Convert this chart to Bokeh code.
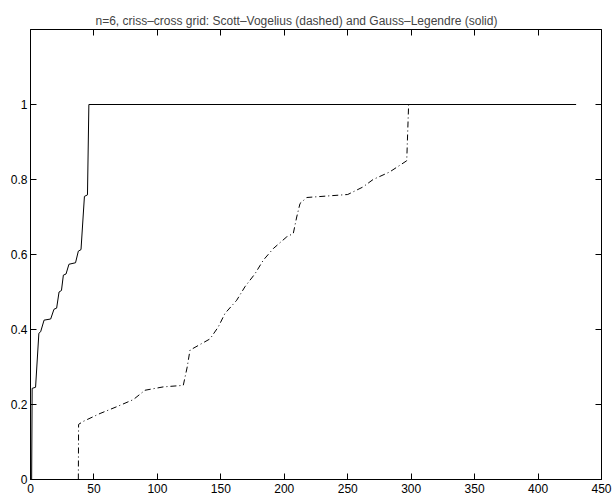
from bokeh.plotting import figure
from bokeh.models import Range1d, LinearAxis, FixedTicker, CustomLabelingPolicy
from bokeh.embed import file_html
from bokeh.resources import INLINE

# Gauss-Legendre (solid)
gl_x = [0.9, 1.3, 4.0, 6.6, 8.0, 10.7, 15.9, 18.5, 20.6, 22.5, 24.4, 25.9, 28.0, 30.3, 35.5, 37.7, 39.8, 42.5, 44.9, 46.0, 430.0]
gl_y = [0.0, 0.243, 0.246, 0.390, 0.394, 0.425, 0.428, 0.454, 0.457, 0.500, 0.504, 0.545, 0.548, 0.574, 0.578, 0.609, 0.613, 0.755, 0.759, 1.0, 1.0]

# Scott-Vogelius (dash-dot)
sv_x = [37.7, 37.9, 41.6, 54.8, 67.9, 81.0, 90.2, 104.7, 120.4, 123.5, 125.7, 141.5, 148.0, 153.3, 162.5,
        169.0, 177.0, 183.5, 191.4, 201.9, 207.1, 209.8, 212.4, 217.7, 250.0, 262.0, 270.0, 283.0, 296.5, 298.0, 430.0]
sv_y = [0.0, 0.147, 0.155, 0.176, 0.194, 0.213, 0.238, 0.247, 0.251, 0.300, 0.345, 0.375, 0.407, 0.443, 0.478,
        0.514, 0.549, 0.585, 0.616, 0.647, 0.656, 0.700, 0.736, 0.752, 0.760, 0.780, 0.800, 0.820, 0.850, 1.0, 1.0]

x_ticks = [0, 50, 100, 150, 200, 250, 300, 350, 400, 450]
y_ticks = [0, 0.2, 0.4, 0.6, 0.8, 1.0]
y_tick_labels = ["0", "0.2", "0.4", "0.6", "0.8", "1"]

title_text = "n=6, criss\u2013cross grid: Scott\u2013Vogelius (dashed) and Gauss\u2013Legendre (solid)"
FONT = "Liberation Sans"

p = figure(frame_width=571, frame_height=450, output_backend="svg", toolbar_location=None,
           x_range=Range1d(0, 450), y_range=Range1d(0, 1.2),
           min_border_left=30, min_border_right=11, min_border_top=29, min_border_bottom=18,
           x_axis_type=None, y_axis_type=None, title=title_text)
p.title.text_font = FONT
p.title.text_font_size = "12px"
p.title.text_font_style = "normal"
p.title.align = "left"
p.title.offset = 65
p.title.standoff = 4
p.xgrid.visible = False
p.ygrid.visible = False
p.outline_line_color = "black"
p.outline_line_width = 1
p.outline_line_alpha = 1.0
p.background_fill_color = "white"
p.border_fill_color = "white"

no_labels = CustomLabelingPolicy(code="return new indices.constructor(indices.size, 0);")

def style_axis(ax, ticks, show_labels, overrides=None):
    ax.ticker = FixedTicker(ticks=ticks)
    ax.major_tick_in = 6
    ax.major_tick_out = 0
    ax.minor_tick_in = 0
    ax.minor_tick_out = 0
    ax.axis_line_color = "black"
    ax.major_tick_line_color = "black"
    ax.major_label_text_font = FONT
    ax.major_label_text_color = "black"
    if show_labels:
        ax.major_label_text_font_size = "12px"
    else:
        ax.major_label_text_font_size = "0px"
        ax.major_label_standoff = 0
        ax.major_label_policy = no_labels
    if overrides:
        ax.major_label_overrides = overrides

xb = LinearAxis()
style_axis(xb, x_ticks, True)
xb.major_label_standoff = 4
p.add_layout(xb, "below")
xt = LinearAxis()
style_axis(xt, x_ticks[1:-1], False)
p.add_layout(xt, "above")
yl = LinearAxis()
style_axis(yl, y_ticks, True, {t: s for t, s in zip(y_ticks, y_tick_labels)})
yl.major_label_standoff = 3
p.add_layout(yl, "left")
yr = LinearAxis()
style_axis(yr, y_ticks[1:], False)
p.add_layout(yr, "right")

p.line(gl_x, gl_y, line_color="black", line_width=1)
p.line(sv_x, sv_y, line_color="black", line_width=1, line_dash="6 3 1 3")

open("out.html", "w").write(file_html(p, INLINE))
